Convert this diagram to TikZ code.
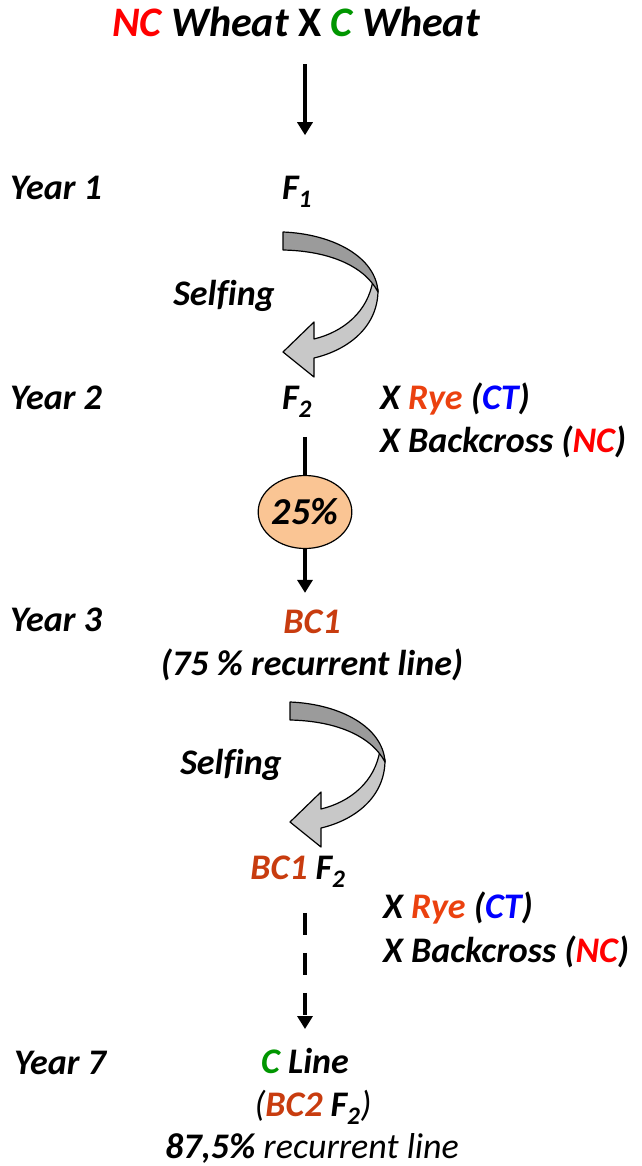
\documentclass[tikz,border=0pt]{standalone}
\usepackage{fontspec}
\setmainfont{Carlito}[Ligatures=NoCommon]
\usepackage{xcolor}
\usepackage{tikz}
\usetikzlibrary{positioning,arrows.meta,shapes.geometric}
\definecolor{ncred}{RGB}{255,0,0}
\definecolor{cgreen}{RGB}{0,150,0}
\definecolor{ctblue}{RGB}{0,0,255}
\definecolor{ryeorange}{RGB}{235,65,15}
\definecolor{bcorange}{RGB}{200,60,15}
\definecolor{peachfill}{RGB}{250,197,148}
\definecolor{banddark}{RGB}{155,155,155}
\definecolor{bandlight}{RGB}{200,200,200}
\newcommand{\bc}[1]{\textcolor{bcorange}{#1}}
\tikzset{
  ttl/.style  ={inner sep=0pt, font=\fontsize{42}{46}\selectfont\bfseries\itshape},
  lbl/.style  ={inner sep=0pt, font=\fontsize{36}{40}\selectfont\bfseries\itshape},
  pctnode/.style={ellipse, draw, line width=1.2pt, fill=peachfill, inner sep=0pt,
                minimum width=92pt, minimum height=73pt, font=\fontsize{38}{42}\selectfont\bfseries\itshape},
  flow/.style ={-{Triangle[width=15pt,length=13pt]}, line width=3.5pt},
  flowd/.style={flow, dash pattern=on 22pt off 18pt},
  band/.style ={draw, line width=1.2pt, line join=round},
  selfarrow/.pic={
    \filldraw[band, fill=bandlight] (95,58) .. controls (95,95) and (65,118) .. (31,126)
      -- (31,145) -- (0,120) -- (31,90) -- (31,107)
      .. controls (60,100) and (85,80) .. (90,48) -- cycle;
    \filldraw[band, fill=banddark] (0,0) .. controls (50,2) and (93,25) .. (95,60)
      .. controls (82,35) and (48,19) .. (0,18) -- cycle;
  },
}
\begin{document}
\begin{tikzpicture}[x=1pt, y=-1pt]
\useasboundingbox (0,0) rectangle (641,1166);
% cross
\node[ttl] (title) at (296,22) {\textcolor{ncred}{NC} Wheat {\upshape X} \textcolor{cgreen}{C} Wheat};

% years
\node[lbl, anchor=west] (year1) at (10,188) {Year 1};
\node[lbl, anchor=west] (year2) at (10,398) {Year 2};
\node[lbl, anchor=west] (year3) at (10,620) {Year 3};
\node[lbl, anchor=west] (year7) at (14,1063) {Year 7};

% generations
\node[lbl] (f1)    at (297,192) {F\textsubscript{1}};
\node[lbl] (f2)    at (297,402) {F\textsubscript{2}};
\node[pctnode] (pct) at (305,512) {25\%};
\node[lbl] (bc1)   at (312,622) {\bc{BC1}};
\node[lbl] (rec75) at (312,665) {(75 \% recurrent line)};
\node[lbl] (bc1f2) at (298,872) {\bc{BC1} F\textsubscript{2}};
\node[lbl] (cline) at (305,1061) {\textcolor{cgreen}{C} Line};
\node[lbl] (bc2)   at (313,1107) {{\mdseries(}\bc{BC2} F\textsubscript{2}{\mdseries)}};
\node[lbl] (rec87) at (312,1148) {87,5\% {\mdseries recurrent line}};

% selfing
\pic at (283,232) {selfarrow};
\pic at (290,702) {selfarrow};
\node[lbl] (self1) at (224,296) {Selfing};
\node[lbl] (self2) at (231,765) {Selfing};

% crosses
\node[lbl, anchor=west] (rye1)  at (380,399) {X \textcolor{ryeorange}{Rye} (\textcolor{ctblue}{CT})};
\node[lbl, anchor=west] (back1) at (380,442) {X Backcross (\textcolor{ncred}{NC})};
\node[lbl, anchor=west] (rye2)  at (383,908) {X \textcolor{ryeorange}{Rye} (\textcolor{ctblue}{CT})};
\node[lbl, anchor=west] (back2) at (383,952) {X Backcross (\textcolor{ncred}{NC})};

% flows
\draw[flow, shorten <=27pt, shorten >=41pt] (title.south -| pct) -- (f1.north -| pct);
\draw[line width=3.5pt, shorten <=19pt] (f2.south -| pct) -- (pct.north);
\draw[flow, shorten >=17pt] (pct.south) -- (bc1.north -| pct);
\draw[flowd, shorten <=25pt, shorten >=19pt] (bc1f2.south -| pct) -- (cline.north -| pct);
\end{tikzpicture}
\end{document}
